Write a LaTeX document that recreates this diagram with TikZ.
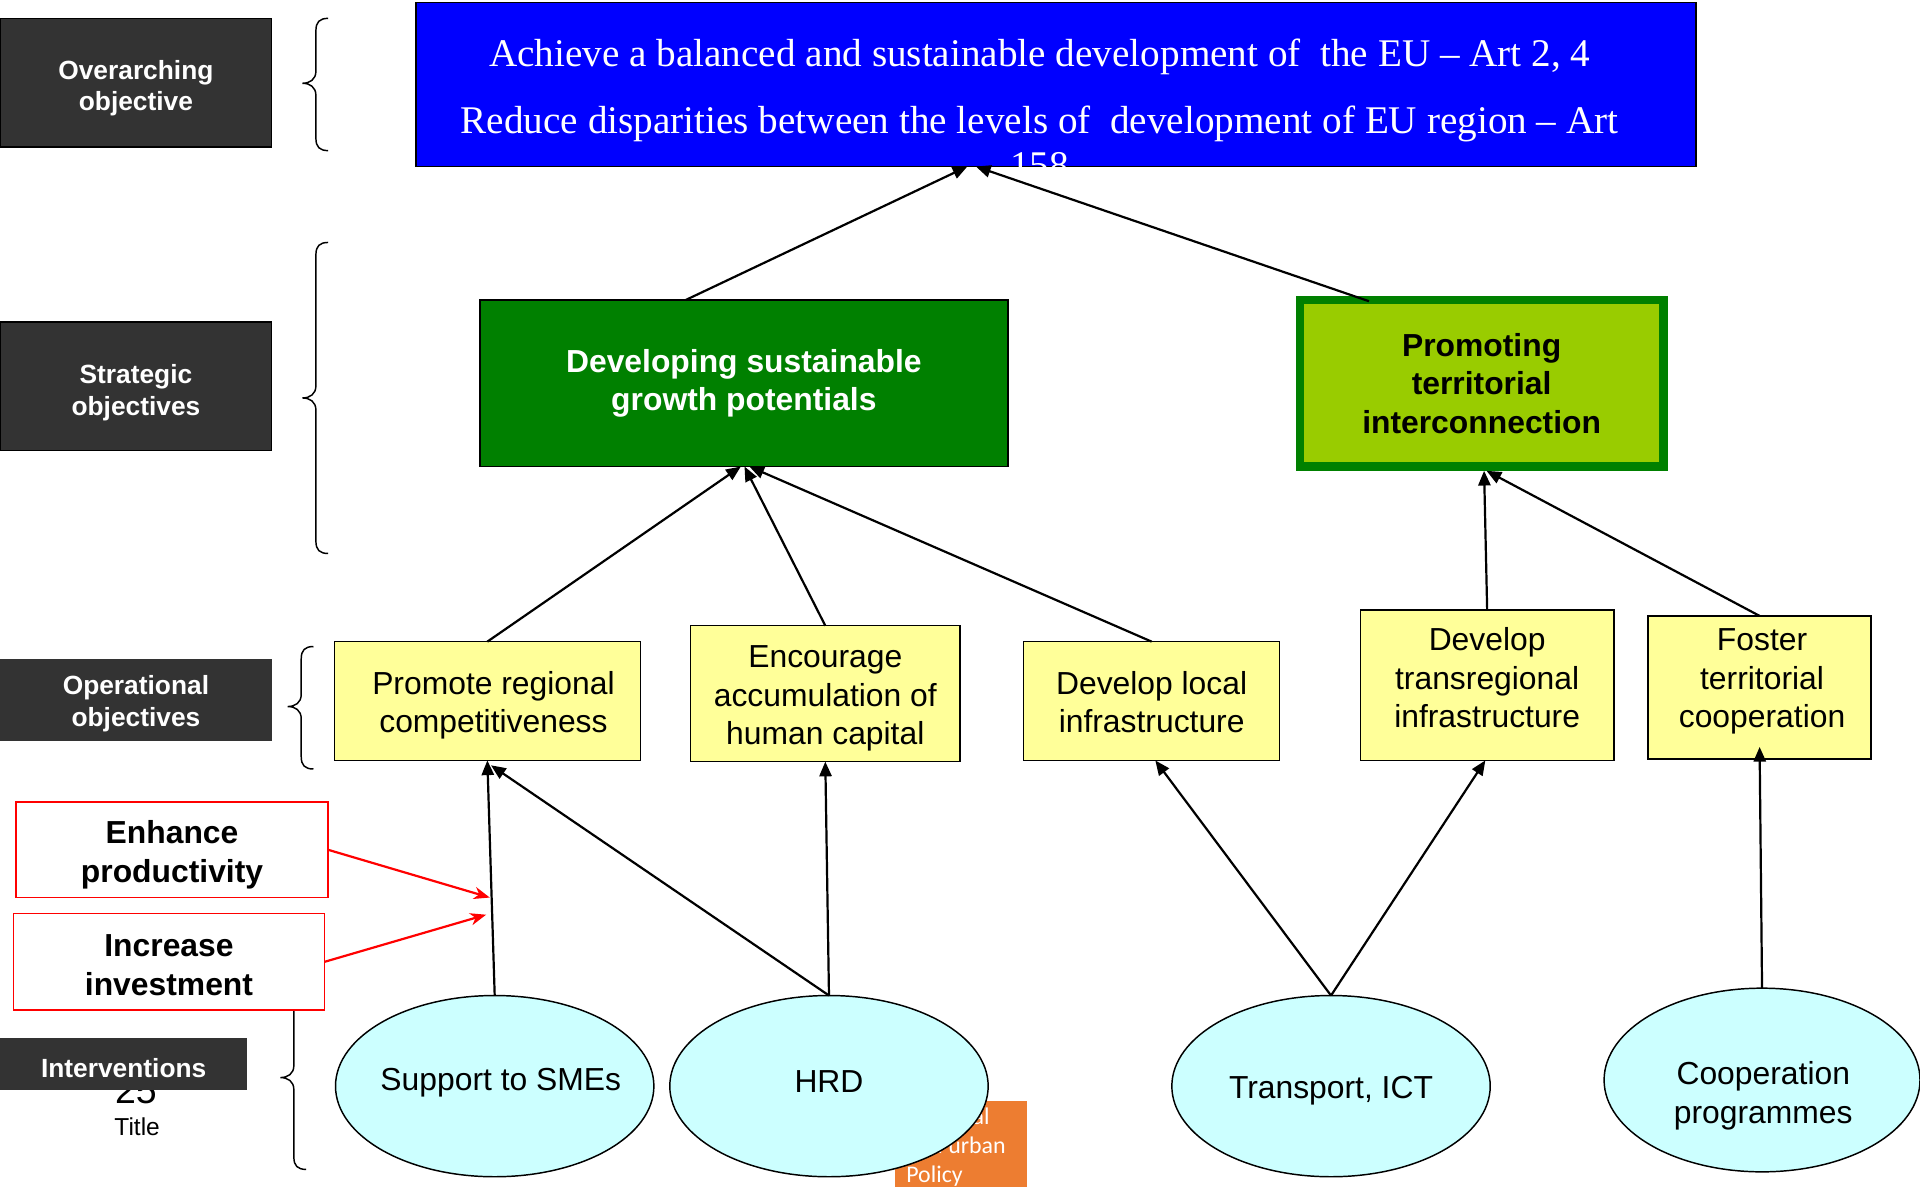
\documentclass[tikz,border=0pt]{standalone}
\usepackage{fontspec}
\setmainfont{Liberation Sans}
\newfontfamily\tnrfont{Liberation Serif}
\newfontfamily\calibrifont{Carlito}
\usetikzlibrary{shapes.geometric,arrows.meta}
\definecolor{labgray}{HTML}{333333}
\definecolor{eublue}{HTML}{0000FF}
\definecolor{dgreen}{HTML}{008000}
\definecolor{lgreen}{HTML}{99CC00}
\definecolor{ylw}{HTML}{FFFF99}
\definecolor{ellcol}{HTML}{CCFFFF}
\definecolor{orng}{HTML}{ED7D31}
\newcommand\mybrace[6]{\draw[bracestyle] (#1,#4) .. controls ({#2+3},#4) and (#2,{#4+3}) .. (#2,{#4+10}) -- (#2,{#5-10}) .. controls (#2,{#5-3}) and ({#2-5},#5) .. (#3,#5) .. controls ({#2-5},#5) and (#2,{#5+3}) .. (#2,{#5+10}) -- (#2,{#6-10}) .. controls (#2,{#6-3}) and ({#2+3},#6) .. (#1,#6);}
\begin{document}
\begin{tikzpicture}[x=1pt,y=-1pt,
  lab/.style={fill=labgray, draw=black, line width=1pt, inner sep=0pt, outer sep=0pt},
  labtxt/.style={text=white, font=\fontsize{21.5}{26}\selectfont\bfseries, align=center, inner sep=0pt},
  ybox/.style={fill=ylw, draw=black, line width=1.2pt, inner sep=0pt, outer sep=0pt},
  ytxt/.style={font=\fontsize{26}{31.5}\selectfont, align=center, inner sep=0pt},
  rbox/.style={fill=white, draw=red, line width=1.3pt, inner sep=0pt, outer sep=0pt},
  rtxt/.style={font=\fontsize{26}{32}\selectfont\bfseries, align=center, inner sep=0pt},
  ell/.style={ellipse, fill=ellcol, draw=black, line width=1.2pt, inner sep=0pt, outer sep=0pt, minimum width=260pt, minimum height=148pt},
  etxt/.style={font=\fontsize{26}{32}\selectfont, align=center, inner sep=0pt},
  btxt/.style={text=white, font=\tnrfont\fontsize{32}{38}\selectfont, inner sep=0pt, anchor=base},
  arr/.style={-{Triangle[length=12pt,width=10pt]}, line width=1.8pt, draw=black},
  redarr/.style={-{Stealth[length=13pt,width=10pt,inset=4pt]}, line width=1.8pt, draw=red},
  bracestyle/.style={draw=black, line width=1.2pt},
  ortxt/.style={text=white, font=\calibrifont\fontsize{19.5}{23}\selectfont, inner sep=0pt, anchor=base west}]
\useasboundingbox (0,0) rectangle (1568,969);
\fill[white] (0,0) rectangle (1568,969);

% left labels
\node[lab, minimum width=222pt, minimum height=105pt] (lo) at (111,67.5) {};
\node[labtxt] (lot) at (111,72) {Overarching\\objective};
\node[lab, minimum width=222pt, minimum height=105pt] (ls) at (111,315.5) {};
\node[labtxt] (lst) at (111,321) {Strategic\\objectives};
\node[lab, draw=none, minimum width=222pt, minimum height=67pt] (lp) at (111,571.5) {};
\node[labtxt] (lpt) at (111,575) {Operational\\objectives};
\node[font=\fontsize{30.6}{30}\selectfont, inner sep=0pt, anchor=base] (num) at (111,901) {25};
\node[font=\fontsize{20}{24}\selectfont, inner sep=0pt, anchor=base] (ttl) at (112,927) {Title};
\node[lab, draw=none, minimum width=202pt, minimum height=42pt] (li) at (101,869) {};
\node[labtxt] (lit) at (101,872) {Interventions};

% braces
\mybrace{268}{258}{247}{15}{68}{123}
\mybrace{268}{258}{247}{198}{325}{452}
\mybrace{256}{246}{235}{528}{577}{628}
\mybrace{250}{240}{229}{800}{880}{955}

% top box
\node[draw=black, line width=1.5pt, fill=eublue, minimum width=1045pt, minimum height=134pt, inner sep=0pt, outer sep=0pt] (ob) at (862.5,69) {};
\node[btxt] (t1) at (849,54) {Achieve a balanced and sustainable development of\ \ the EU – Art 2, 4};
\node[btxt] (t2) at (849,109) {Reduce disparities between the levels of\ \ development of EU region – Art};
\node[btxt] (t3) at (849,146) {158};

% strategic
\node[draw=black, line width=1.2pt, fill=dgreen, minimum width=431pt, minimum height=136pt, text=white, font=\fontsize{26}{31.5}\selectfont\bfseries, align=center, inner sep=0pt, outer sep=0pt] (g1) at (607.5,313) {Developing sustainable\\growth potentials};
\node[draw=dgreen, line width=7pt, fill=lgreen, minimum width=297pt, minimum height=136pt, font=\fontsize{26}{31.5}\selectfont\bfseries, align=center, inner sep=0pt, outer sep=0pt] (g2) at (1210,313) {Promoting\\territorial\\interconnection};

% operational
\node[ybox, minimum width=250pt, minimum height=97pt] (pr) at (398,572.5) {};
\node[ytxt] (prt) at (403,576) {Promote regional\\competitiveness};
\node[ybox, minimum width=220pt, minimum height=111pt] (en) at (674,566.5) {};
\node[ytxt] (ent) at (674,570.5) {Encourage\\accumulation of\\human capital};
\node[ybox, minimum width=209pt, minimum height=97pt] (dl) at (940.5,572.5) {};
\node[ytxt] (dlt) at (940.5,573.5) {Develop local\\infrastructure};
\node[ybox, minimum width=207pt, minimum height=123pt] (dt) at (1214.5,559.5) {};
\node[ytxt] (dtt) at (1214.5,553.5) {Develop\\transregional\\infrastructure};
\node[ybox, minimum width=182pt, minimum height=117pt] (ft) at (1437,561.5) {};
\node[ytxt] (ftt) at (1439,556.5) {Foster\\territorial\\cooperation};

% red boxes
\node[rbox, minimum width=255pt, minimum height=78pt] (ep) at (140.5,694) {};
\node[rtxt] (ept) at (140.5,698) {Enhance\\productivity};
\node[rbox, minimum width=254pt, minimum height=79pt] (ii) at (138,785.5) {};
\node[rtxt] (iit) at (138,788) {Increase\\investment};

% orange box
\node[fill=orng, minimum width=108pt, minimum height=70pt, inner sep=0pt] (orb) at (785,934) {};
\node[ortxt] (or1) at (740,918) {Regional};
\node[ortxt] (or2) at (740,942) {and urban};
\node[ortxt] (or3) at (740,966) {Policy};

% interventions
\node[ell] (sm) at (404,887) {};
\node[etxt] (smt) at (409,884) {Support to SMEs};
\node[ell] (hr) at (677,887) {};
\node[etxt] (hrt) at (677,883) {HRD};
\node[ell] (tr) at (1087,887) {};
\node[etxt] (trt) at (1087,891) {Transport, ICT};
\node[ell, minimum width=258pt, minimum height=150pt] (cp) at (1439,882) {};
\node[etxt] (cpt) at (1440,895) {Cooperation\\programmes};

% arrows
\draw[arr] ([xshift=-47.5pt]g1.north) -- ([xshift=-72.5pt]ob.south);
\draw[arr] ([xshift=-92pt,yshift=-1pt]g2.north) -- ([xshift=-65.5pt]ob.south);
\draw[arr] (pr.north) -- ([xshift=-2.5pt]g1.south);
\draw[arr] (en.north) -- ([xshift=0.5pt]g1.south);
\draw[arr] (dl.north) -- ([xshift=4.5pt]g1.south);
\draw[arr] (dt.north) -- ([xshift=2pt,yshift=-3.5pt]g2.south);
\draw[arr] (ft.north) -- ([xshift=4pt,yshift=-3.5pt]g2.south);
\draw[arr] (sm.north) -- (pr.south);
\draw[arr] (hr.north) -- ([xshift=3pt,yshift=-4pt]pr.south);
\draw[arr] (hr.north) -- (en.south);
\draw[arr] (tr.north) -- ([xshift=3pt]dl.south);
\draw[arr] (tr.north) -- ([xshift=-1.5pt]dt.south);
\draw[arr] (cp.north) -- ([yshift=10pt]ft.south);

\coordinate (r1) at (400,733);
\coordinate (r2) at (397,747);
\draw[redarr] (ep.east) -- (r1);
\draw[redarr] (ii.east) -- (r2);
\end{tikzpicture}
\end{document}
